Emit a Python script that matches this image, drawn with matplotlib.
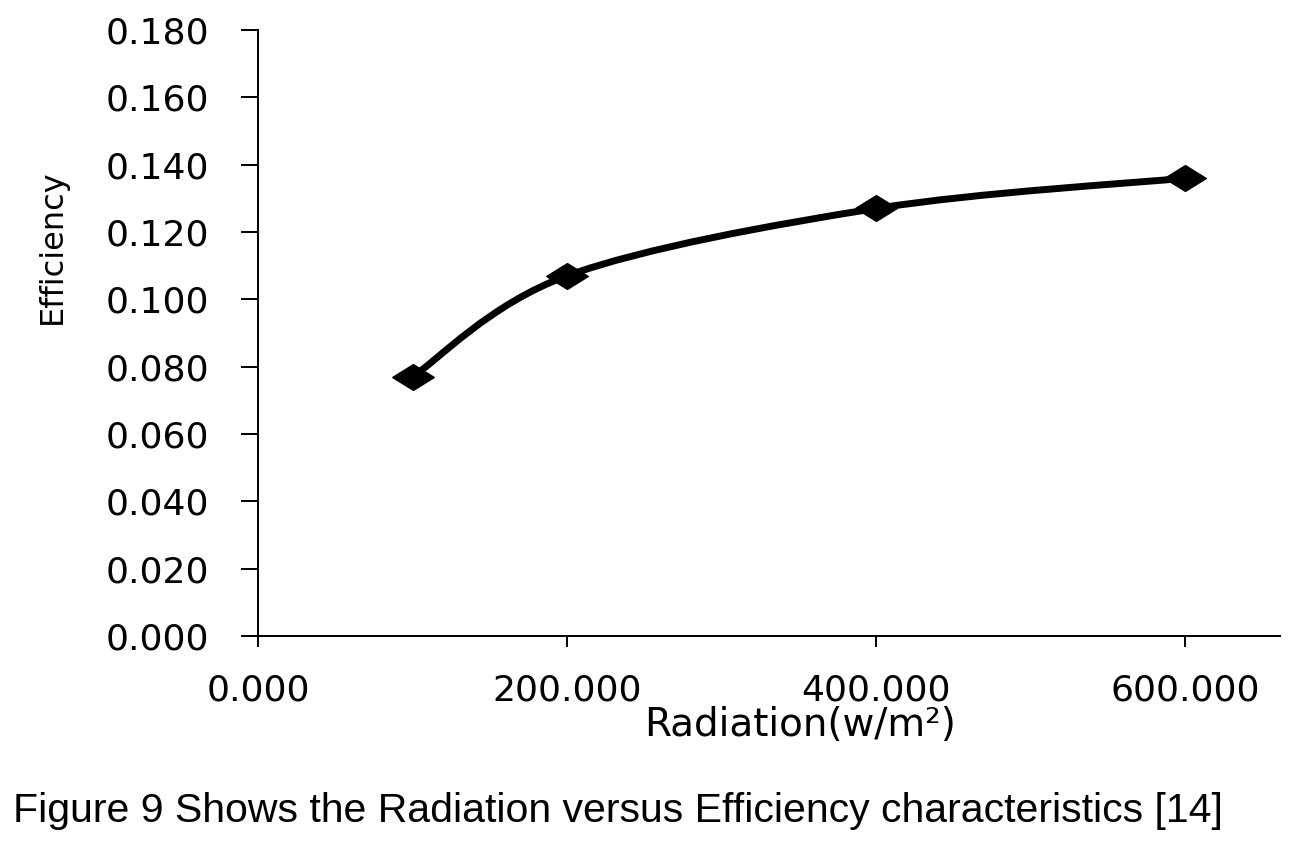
import matplotlib
matplotlib.use("Agg")
import matplotlib.pyplot as plt
import numpy as np
from matplotlib.path import Path
from matplotlib.patches import PathPatch

# data
radiation = [100, 200, 400, 600]
efficiency = [0.077, 0.107, 0.127, 0.136]
x_ticks = [0, 200, 400, 600]
y_ticks = [0.0, 0.02, 0.04, 0.06, 0.08, 0.10, 0.12, 0.14, 0.16, 0.18]

fig = plt.figure(figsize=(12.9, 8.52), dpi=100)
ax = fig.add_axes([0.2, 0.2535, 0.792, 0.7113])

# smoothed line (Excel style bezier through the points)
pts = np.column_stack([radiation, efficiency])
ext = np.vstack([pts[0], pts, pts[-1]])
verts = [tuple(pts[0])]
codes = [Path.MOVETO]
for i in range(len(pts) - 1):
    p0, p1, p2, p3 = ext[i], ext[i + 1], ext[i + 2], ext[i + 3]
    c1 = p1 + (p2 - p0) / 6
    c2 = p2 - (p3 - p1) / 6
    verts += [tuple(c1), tuple(c2), tuple(p2)]
    codes += [Path.CURVE4] * 3
ax.add_patch(PathPatch(Path(verts, codes), facecolor="none", edgecolor="black",
                       lw=5, transform=ax.transData, capstyle="round"))

diamond = [(-1, 0), (0, 0.62), (1, 0), (0, -0.62), (-1, 0)]
ax.plot(radiation, efficiency, linestyle="none", marker=diamond, ms=30,
        color="black", zorder=3)

ax.set_xlim(0, 661)
ax.set_ylim(0, 0.18)
ax.set_xticks(x_ticks)
ax.set_xticklabels(["%.3f" % v for v in x_ticks])
ax.set_yticks(y_ticks)
ax.set_yticklabels(["%.3f" % v for v in y_ticks])

for s in ["top", "right"]:
    ax.spines[s].set_visible(False)
for s in ["left", "bottom"]:
    ax.spines[s].set_linewidth(1.4)

ax.tick_params(axis="y", direction="out", length=12, width=1.4, pad=23,
               labelsize=26, colors="black")
ax.tick_params(axis="x", direction="out", length=8, width=1.4, pad=19,
               labelsize=26, colors="black")

ax.set_xlabel("Radiation(w/m²)", fontsize=28)
ax.xaxis.set_label_coords(0.531, -0.116)
ax.set_ylabel("Efficiency", fontsize=23)
ax.yaxis.set_label_coords(-0.186, 0.642)

fig.text(0.01, 0.048, "Figure 9 Shows the Radiation versus Efficiency characteristics [14]",
         fontsize=29.5, family=["Liberation Sans", "DejaVu Sans"], ha="left", va="center")

fig.savefig("out.png", dpi=100)
